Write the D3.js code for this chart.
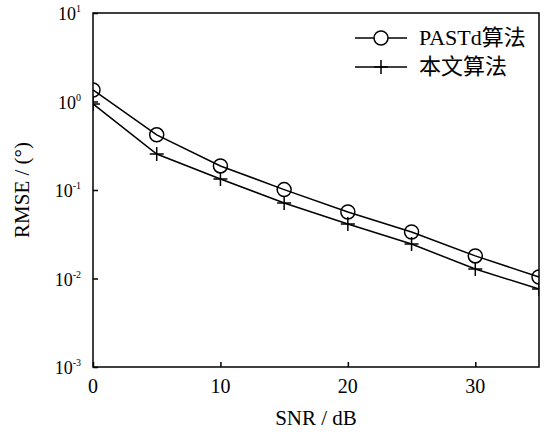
<!DOCTYPE html>
<html>
<head>
<meta charset="utf-8">
<script src="https://cdn.jsdelivr.net/npm/d3@7"></script>
<style>
  body { margin: 0; background: #fff; }
  text { font-family: "Liberation Serif", "Noto Sans CJK SC", serif; fill: #000; }
</style>
</head>
<body>
<div id="chart-area"></div>
<script>
// data
const snr = [0, 5, 10, 15, 20, 25, 30, 35];
const pastd = [1.35, 0.42, 0.187, 0.101, 0.0564, 0.0335, 0.018, 0.0104];
const proposed = [0.94, 0.255, 0.133, 0.0713, 0.0413, 0.0245, 0.0128, 0.0076];
const xTicks = [0, 10, 20, 30];
const yExps = [1, 0, -1, -2, -3];
const seriesNames = ["PASTd算法", "本文算法"];

const W = 552, H = 435;
const MARGIN = { LEFT: 93, RIGHT: 13, TOP: 13, BOTTOM: 68 };

const svg = d3.select("#chart-area").append("svg")
    .attr("width", W)
    .attr("height", H);

const x = d3.scaleLinear()
    .domain([0, 35])
    .range([MARGIN.LEFT, W - MARGIN.RIGHT]);

const y = d3.scaleLog()
    .domain([1e-3, 10])
    .range([H - MARGIN.BOTTOM, MARGIN.TOP]);

// clip for markers
svg.append("clipPath").attr("id", "plot-clip")
  .append("rect")
    .attr("x", x(0)).attr("y", y(10))
    .attr("width", x(35) - x(0))
    .attr("height", y(1e-3) - y(10));

// X axis (ticks point inward)
const xAxis = svg.append("g")
    .attr("transform", `translate(0, ${y(1e-3)})`)
    .call(d3.axisBottom(x).tickValues(xTicks).tickSizeInner(-5).tickSizeOuter(0).tickFormat(""));
xAxis.select(".domain").remove();
xAxis.selectAll("line").attr("stroke", "#000").attr("stroke-width", 1.5);

svg.selectAll(".x-label").data(xTicks).enter().append("text")
    .attr("class", "x-label")
    .attr("x", d => x(d))
    .attr("y", 393)
    .attr("text-anchor", "middle")
    .attr("font-size", "20px")
    .text(d => d);

// Y axis
const yAxis = svg.append("g")
    .attr("transform", `translate(${x(0)}, 0)`)
    .call(d3.axisLeft(y).tickValues(yExps.map(e => Math.pow(10, e))).tickSizeInner(-5).tickSizeOuter(0).tickFormat(""));
yAxis.select(".domain").remove();
yAxis.selectAll("line").attr("stroke", "#000").attr("stroke-width", 1.5);

const yLab = svg.selectAll(".y-label").data(yExps).enter().append("text")
    .attr("class", "y-label")
    .attr("x", 81)
    .attr("y", d => y(Math.pow(10, d)) + 7)
    .attr("text-anchor", "end")
    .attr("font-size", "18px");
yLab.append("tspan").text("10");
yLab.append("tspan")
    .attr("font-size", "10px")
    .attr("dy", -8)
    .text(d => d);

// frame
svg.append("rect")
    .attr("x", x(0)).attr("y", y(10))
    .attr("width", x(35) - x(0))
    .attr("height", y(1e-3) - y(10))
    .attr("fill", "none")
    .attr("stroke", "#000")
    .attr("stroke-width", 1.5);

// axis titles
svg.append("text")
    .attr("x", (x(0) + x(35)) / 2)
    .attr("y", 425)
    .attr("text-anchor", "middle")
    .attr("font-size", "21px")
    .text("SNR / dB");

svg.append("text")
    .attr("transform", `translate(29, ${(y(10) + y(1e-3)) / 2}) rotate(-90)`)
    .attr("text-anchor", "middle")
    .attr("font-size", "21px")
    .text("RMSE / (°)");

// lines
const line = d3.line()
    .x((d, i) => x(snr[i]))
    .y(d => y(d));

[pastd, proposed].forEach(s => {
    svg.append("path")
        .datum(s)
        .attr("d", line)
        .attr("fill", "none")
        .attr("stroke", "#000")
        .attr("stroke-width", 1.5);
});

// markers
const marks = svg.append("g").attr("clip-path", "url(#plot-clip)");

marks.selectAll(".circ").data(pastd).enter().append("circle")
    .attr("class", "circ")
    .attr("cx", (d, i) => x(snr[i]))
    .attr("cy", d => y(d))
    .attr("r", 7)
    .attr("fill", "none")
    .attr("stroke", "#000")
    .attr("stroke-width", 1.5);

const plusPath = (cx, cy, s) => `M${cx - s},${cy}H${cx + s}M${cx},${cy - s}V${cy + s}`;
marks.selectAll(".plus").data(proposed).enter().append("path")
    .attr("class", "plus")
    .attr("d", (d, i) => plusPath(x(snr[i]), y(d), 7))
    .attr("fill", "none")
    .attr("stroke", "#000")
    .attr("stroke-width", 1.5);

// legend
const legend = svg.append("g");
seriesNames.forEach((name, i) => {
    const row = legend.append("g")
        .attr("transform", `translate(355, ${38 + i * 29})`);
    row.append("line")
        .attr("x1", 0).attr("x2", 52)
        .attr("stroke", "#000").attr("stroke-width", 1.5);
    if (i === 0) {
        row.append("circle")
            .attr("cx", 26).attr("r", 7)
            .attr("fill", "#fff")
            .attr("stroke", "#000").attr("stroke-width", 1.5);
    } else {
        row.append("path")
            .attr("d", plusPath(26, 0, 7))
            .attr("stroke", "#000").attr("stroke-width", 1.5);
    }
    row.append("text")
        .attr("x", 64)
        .attr("y", 7)
        .attr("font-size", "22px")
        .text(name);
});
</script>
</body>
</html>
